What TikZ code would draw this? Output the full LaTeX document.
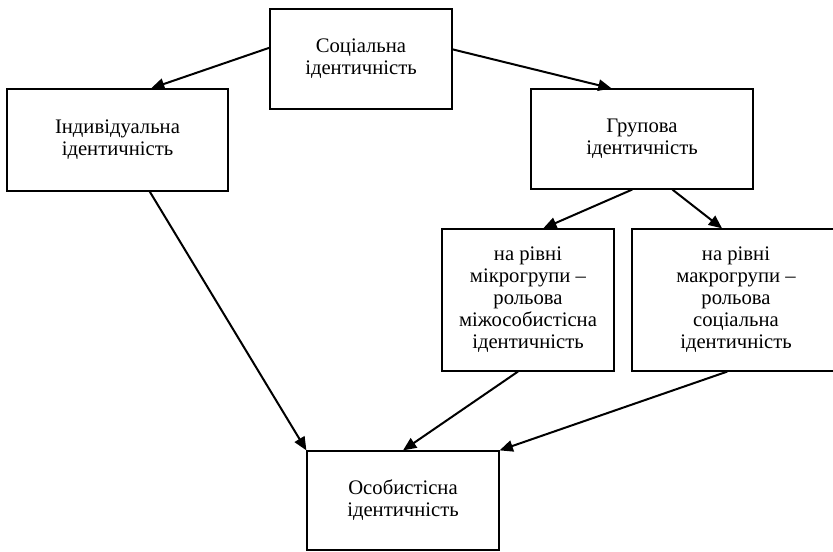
\documentclass[tikz,border=0pt]{standalone}
\usepackage{fontspec}
\setmainfont{Liberation Serif}
\usetikzlibrary{positioning,arrows.meta}
\tikzset{
  idbox/.style={rectangle, draw, line width=0.9pt, align=center, inner sep=2pt,
                font=\fontsize{15.5}{16.5}\selectfont},
  fwd/.style={-{Triangle[length=10pt,width=8.5pt]}, line width=1.5pt},
}

\begin{document}
\begin{tikzpicture}[x=0.75pt, y=-0.75pt]
  \useasboundingbox (0,0) rectangle (833,552);

  \node[idbox, minimum width=136.5pt, minimum height=75pt] (soc) at (361,59) {Соціальна\\ідентичність};
  \node[idbox, minimum width=165.75pt, minimum height=76.5pt] (ind) at (117.5,140) {Індивідуальна\\ідентичність};
  \node[idbox, minimum width=166.5pt, minimum height=75pt] (grp) at (642,139) {Групова\\ідентичність};
  \node[idbox, minimum width=129pt, minimum height=106.5pt] (mic) at (528,300) {на рівні\\мікрогрупи –\\рольова\\міжособистісна\\ідентичність};
  \node[idbox, minimum width=156pt, minimum height=106.5pt] (mac) at (736,300) {на рівні\\макрогрупи –\\рольова\\соціальна\\ідентичність};
  \node[idbox, minimum width=144pt, minimum height=74.25pt] (per) at (403,500.5) {Особистісна\\ідентичність};

  \draw[fwd] (soc.173) -- (ind.57);
  \draw[fwd] (soc.6) -- (grp.121);
  \draw[fwd] (grp.259) -- (mic.78);
  \draw[fwd] (grp.301) -- (mac.101);
  \draw[fwd] (ind.302) -- (per.north west);
  \draw[fwd] (mic.262) -- (per.north);
  \draw[fwd] (mac.263) -- (per.north east);
\end{tikzpicture}
\end{document}
